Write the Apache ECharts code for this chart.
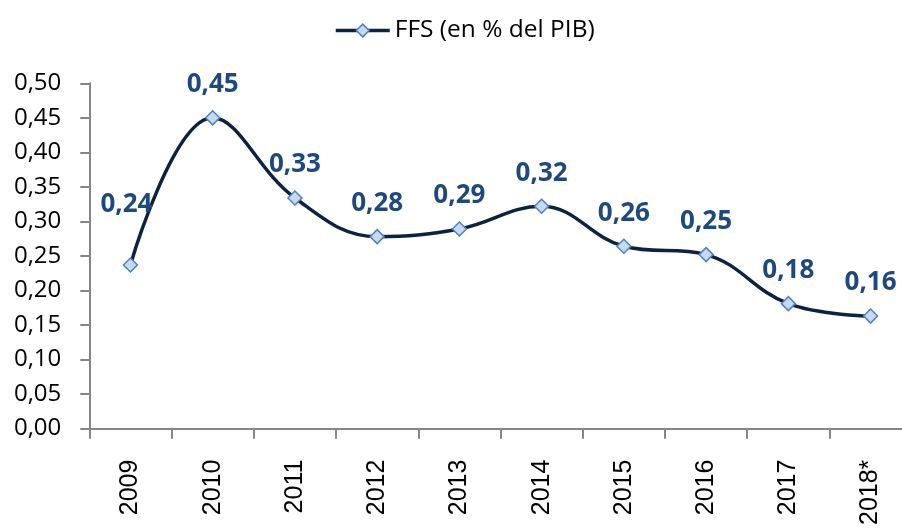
<!DOCTYPE html>
<html>
<head>
<meta charset="utf-8">
<script src="https://cdn.jsdelivr.net/npm/echarts@6/dist/echarts.min.js"></script>
<style>html,body{margin:0;padding:0;background:#fff;overflow:hidden;}#c{width:912px;height:528px;}</style>
</head>
<body>
<div id="c"></div>
<script>
var categories = ['2009','2010','2011','2012','2013','2014','2015','2016','2017','2018*'];
var values = [0.237, 0.450, 0.334, 0.278, 0.289, 0.322, 0.264, 0.252, 0.181, 0.163];
var seriesName = 'FFS (en % del PIB)';
var yTicks = [0, 0.05, 0.10, 0.15, 0.20, 0.25, 0.30, 0.35, 0.40, 0.45, 0.50];

function fmt(v, d) { return v.toFixed(d).replace('.', ','); }

var chart = echarts.init(document.getElementById('c'), null, {renderer: 'canvas'});
var data = values.map(function (v, i) {
  return {
    value: v,
    label: { offset: i === 0 ? [-4, -60] : [0, -33] }
  };
});
chart.setOption({
  animation: false,
  backgroundColor: '#ffffff',
  legend: {
    top: 13,
    left: 329,
    itemWidth: 54,
    itemHeight: 16,
    itemGap: 4,
    lineStyle: { color: '#0c2340', width: 3.5 },
    itemStyle: { color: '#c6d9f1', borderColor: '#4f81bd', borderWidth: 1.5 },
    textStyle: { fontFamily: 'Open Sans', fontSize: 24.5, color: '#000' },
    data: [{ name: seriesName }]
  },
  grid: { left: 89.3, right: 0.3, top: 83.3, bottom: 98.7, containLabel: false },
  xAxis: {
    type: 'category',
    data: categories,
    boundaryGap: true,
    axisLine: { lineStyle: { color: '#868686', width: 2 } },
    axisTick: { show: true, length: 10, lineStyle: { color: '#868686', width: 2 } },
    axisLabel: { rotate: 90, margin: 31, fontFamily: 'Liberation Sans', fontSize: 25, color: '#000' }
  },
  yAxis: {
    type: 'value',
    min: 0, max: 0.5, interval: 0.05,
    axisLine: { show: true, lineStyle: { color: '#868686', width: 2 } },
    axisTick: { show: true, length: 9, lineStyle: { color: '#868686', width: 2 } },
    splitLine: { show: false },
    axisLabel: {
      margin: 28, fontFamily: 'Open Sans', fontSize: 24, color: '#000',
      formatter: function (v) { return fmt(v, 2); }
    }
  },
  series: [{
    name: seriesName,
    type: 'line',
    data: data,
    smooth: 0.4,
    symbol: 'diamond',
    symbolSize: 14,
    lineStyle: { color: '#0c2340', width: 3.5 },
    itemStyle: { color: '#c6d9f1', borderColor: '#4f81bd', borderWidth: 1.5 },
    label: {
      show: true,
      position: 'inside',
      fontFamily: 'Open Sans', fontWeight: 'bold', fontSize: 26, color: '#1f497d',
      formatter: function (p) { return fmt(p.value, 2); }
    },
    z: 3
  }]
});
</script>
</body>
</html>
